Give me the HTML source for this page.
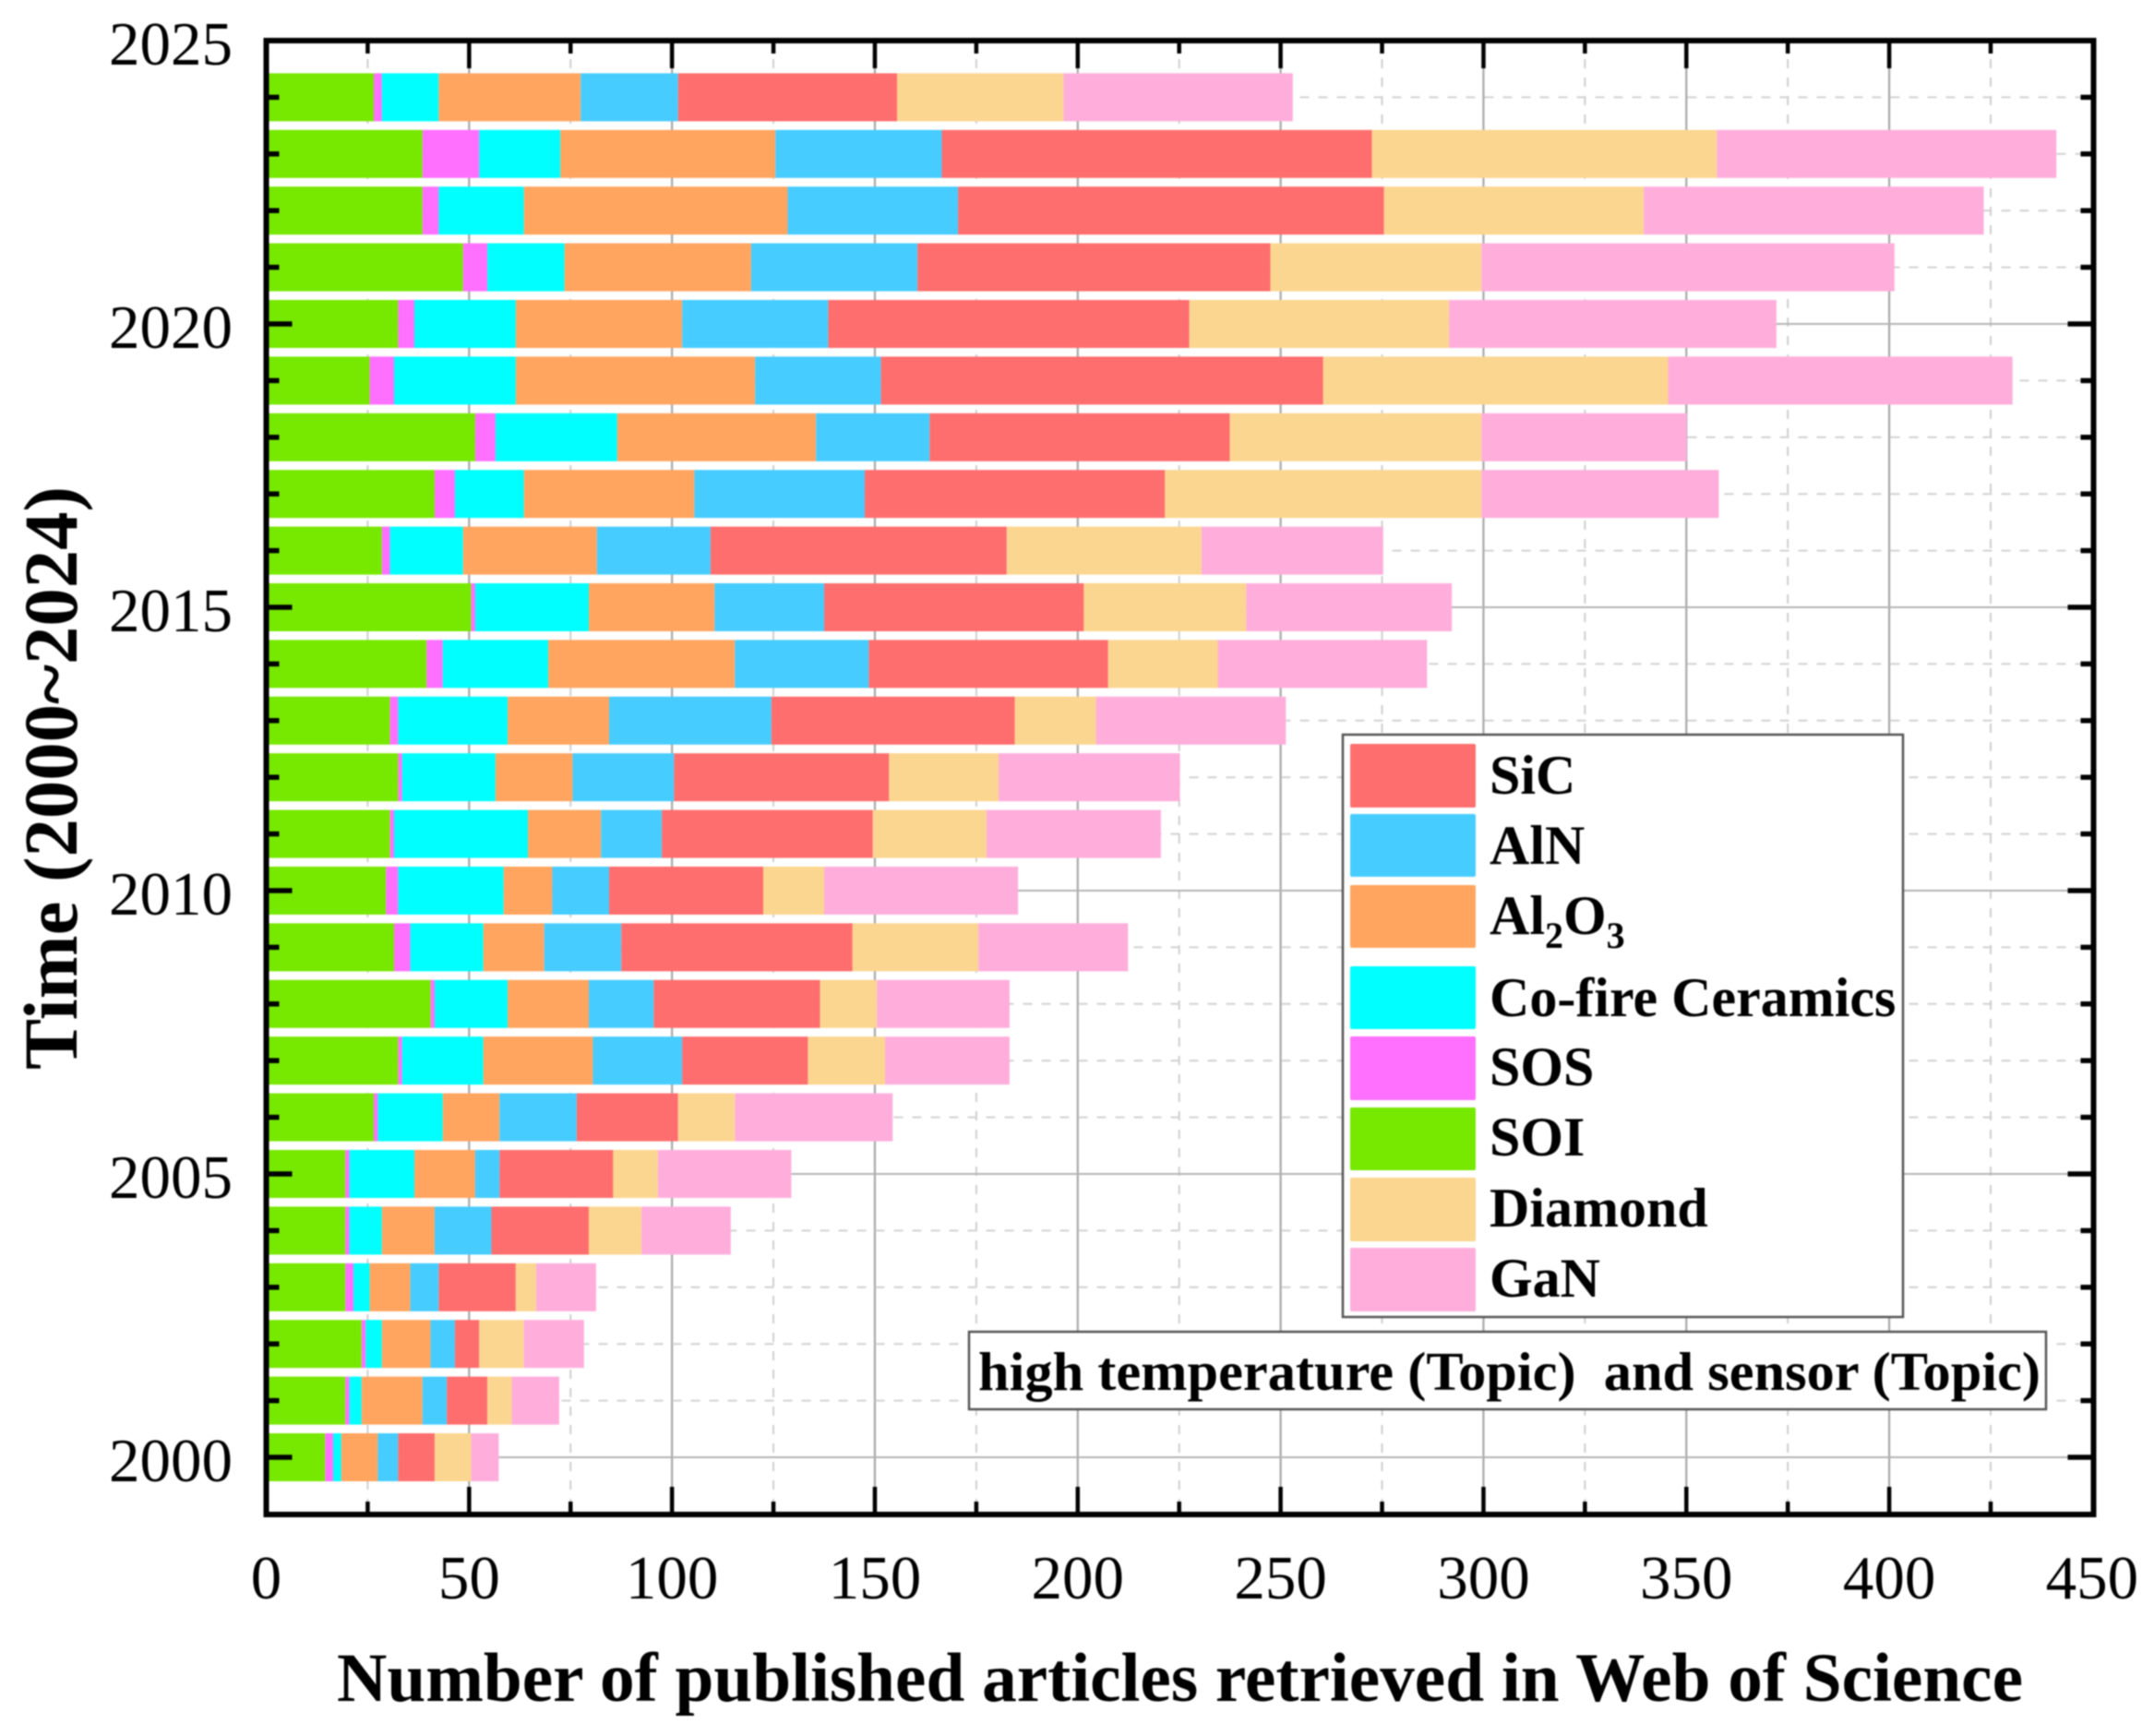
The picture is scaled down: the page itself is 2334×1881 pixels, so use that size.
<!DOCTYPE html>
<html lang="en">
<head>
<meta charset="utf-8">
<title>High temperature sensor publications, 2000–2024</title>
<style>
html,body{margin:0;padding:0;background:#fff;width:2334px;height:1881px;overflow:hidden}
svg{display:block;filter:blur(.8px)}
text{font-family:"Liberation Serif",serif;fill:#000}
.b{font-weight:bold}
</style>
</head>
<body>
<svg id="chart" xmlns="http://www.w3.org/2000/svg" width="2334" height="1881" viewBox="0 0 2334 1881">
  <rect x="0" y="0" width="2334" height="1881" fill="#fff"/>
  <g id="grid"></g>
  <g id="bars"></g>
  <g id="ticks"></g>
  <rect x="288.5" y="44" width="1980" height="1597" fill="none" stroke="#000" stroke-width="6"/>
  <g id="tick-labels"></g>

  <text class="b" x="365" y="1843" font-size="75" textLength="1827" lengthAdjust="spacingAndGlyphs">Number of published articles retrieved in Web of Science</text>
  <text class="b" transform="translate(83,1159) rotate(-90)" x="0" y="0" font-size="83" textLength="632" lengthAdjust="spacingAndGlyphs">Time (2000~2024)</text>

  <g>
    <rect x="1455" y="796" width="607" height="631" fill="#fff" stroke="#555" stroke-width="2.5"/>
    <g>
      <rect x="1463" y="806" width="136" height="69" rx="2" fill="#FF6E6E"/>
      <text class="b" x="1614" y="860" font-size="60">SiC</text>
    </g>
    <g>
      <rect x="1463" y="882" width="136" height="68" rx="2" fill="#47CCFF"/>
      <text class="b" x="1614" y="936" font-size="60">AlN</text>
    </g>
    <g>
      <rect x="1463" y="959" width="136" height="68" rx="2" fill="#FFA560"/>
      <text class="b" x="1614" y="1012" font-size="60">Al<tspan font-size="40" dy="15">2</tspan><tspan dy="-15">O</tspan><tspan font-size="40" dy="15">3</tspan></text>
    </g>
    <g>
      <rect x="1463" y="1047" width="136" height="68" rx="2" fill="#00FFFF"/>
      <text class="b" x="1614" y="1101" font-size="60">Co-fire Ceramics</text>
    </g>
    <g>
      <rect x="1463" y="1123" width="136" height="69" rx="2" fill="#FF70FF"/>
      <text class="b" x="1614" y="1176" font-size="60">SOS</text>
    </g>
    <g>
      <rect x="1463" y="1200" width="136" height="68" rx="2" fill="#77E800"/>
      <text class="b" x="1614" y="1252" font-size="60">SOI</text>
    </g>
    <g>
      <rect x="1463" y="1276" width="136" height="69" rx="2" fill="#FBD690"/>
      <text class="b" x="1614" y="1329" font-size="60">Diamond</text>
    </g>
    <g>
      <rect x="1463" y="1352" width="136" height="69" rx="2" fill="#FFAEDC"/>
      <text class="b" x="1614" y="1405" font-size="60">GaN</text>
    </g>
  </g>

  <g>
    <rect x="1050" y="1443" width="1167" height="84" fill="#fff" stroke="#555" stroke-width="2.5"/>
    <text class="b" x="1060" y="1506" font-size="59" textLength="1151" lengthAdjust="spacingAndGlyphs" xml:space="preserve" style="white-space:pre">high temperature (Topic)  and sensor (Topic)</text>
  </g>
</svg>
<script>
// Chart data (years run 2000 to 2024)
var years = [2000,2001,2002,2003,2004,2005,2006,2007,2008,2009,2010,2011,2012,2013,2014,2015,2016,2017,2018,2019,2020,2021,2022,2023,2024];
var seriesNames = ["SOI","SOS","Co-fire Ceramics","Al2O3","AlN","SiC","Diamond","GaN"];
var seriesColors = ["#77E800","#FF70FF","#00FFFF","#FFA560","#47CCFF","#FF6E6E","#FBD690","#FFAEDC"];
var soi = [14.5,19.5,23.5,19.5,19.5,19.5,26.5,32.5,40.5,31.5,29.5,30.5,32.5,30.5,39.5,50.5,28.5,41.5,51.5,25.5,32.5,48.5,38.5,38.5,26.5];
var sos = [2,1,1,2,1,1,1,1,1,4,3,1,1,2,4,1,2,5,5,6,4,6,4,14,2];
var coFire = [2,3,4,4,8,16,16,20,18,18,26,33,23,27,26,28,18,17,30,30,25,19,21,20,14];
var al2o3 = [9,15,12,10,13,15,14,27,20,15,12,18,19,25,46,31,33,42,49,59,41,46,65,53,35];
var aln = [5,6,6,7,14,6,19,22,16,19,14,15,25,40,33,27,28,42,28,31,36,41,42,41,24];
var sic = [9,10,6,19,24,28,25,31,41,57,38,52,53,60,59,64,73,74,74,109,89,87,105,106,54];
var diamond = [9,6,11,5,13,11,14,19,14,31,15,28,27,20,27,40,48,78,62,85,64,52,64,85,41];
var gan = [6.8,11.7,14.8,14.8,22,32.9,38.9,30.7,32.7,36.9,47.8,43,44.7,46.8,51.6,50.7,44.8,58.5,50.6,84.9,80.7,101.8,83.8,83.7,56.5];
var xTickLabels = [0,50,100,150,200,250,300,350,400,450];
var yTickLabels = [2000,2005,2010,2015,2020,2025];

var allSeries = [soi,sos,coFire,al2o3,aln,sic,diamond,gan];
var NS = "http://www.w3.org/2000/svg";
function x(v){ return 288.5 + 4.3965 * v; }
function y(yr){ return 1579 - 61.4 * (yr - 2000); }
var X_MAX = 450, Y_MIN = 1999, Y_MAX = 2025;
var BAR_H = 52;

function line(parent, x1, y1, x2, y2, stroke, w, dash){
  var el = document.createElementNS(NS, "line");
  el.setAttribute("x1", x1); el.setAttribute("y1", y1);
  el.setAttribute("x2", x2); el.setAttribute("y2", y2);
  el.setAttribute("stroke", stroke); el.setAttribute("stroke-width", w);
  if (dash) el.setAttribute("stroke-dasharray", dash);
  parent.appendChild(el);
  return el;
}

var gridG = document.getElementById("grid");
var ticksG = document.getElementById("ticks");
var labelsG = document.getElementById("tick-labels");
var barsG = document.getElementById("bars");
var l;

// vertical grid and x ticks (major every 50, minor at the midpoints)
for (var v = 25; v < X_MAX; v += 25) {
  var isMajorX = v % 50 === 0;
  l = line(gridG, x(v), 44, x(v), 1641, isMajorX ? "#a8a8a8" : "#cfcfcf", isMajorX ? 2.2 : 2, isMajorX ? null : "10 10");
  
  
}
for (var v2 = 25; v2 < X_MAX; v2 += 25) {
  var len = v2 % 50 === 0 ? 30 : 14;
  l = line(ticksG, x(v2), 1641, x(v2), 1641 - len, "#000", 4.5);
  
  
  l = line(ticksG, x(v2), 44, x(v2), 44 + len, "#000", 4.5);
  
  
}

// horizontal grid and y ticks (major every 5 years, minor each year)
for (var yr = Y_MIN + 1; yr < Y_MAX; yr++) {
  var isMajorY = yr % 5 === 0;
  l = line(gridG, 288.5, y(yr), 2268.5, y(yr), isMajorY ? "#b4b4b4" : "#d2d2d2", 2, isMajorY ? null : "10 10");
  
  
  var tlen = isMajorY ? 28 : 14;
  l = line(ticksG, 288.5, y(yr), 288.5 + tlen, y(yr), "#000", 5.5);
  
  
  l = line(ticksG, 2268.5, y(yr), 2268.5 - tlen, y(yr), "#000", 5.5);
  
  
}

// stacked bars
years.forEach(function (year, i) {
  var total = 0;
  allSeries.forEach(function (vals, s) {
    var r = document.createElementNS(NS, "rect");
    r.setAttribute("x", x(total));
    r.setAttribute("y", y(year) - BAR_H / 2);
    r.setAttribute("width", x(total + vals[i]) - x(total));
    r.setAttribute("height", BAR_H);
    r.setAttribute("fill", seriesColors[s]);
    
    
    r.setAttribute("data-series", seriesNames[s]);
    r.setAttribute("data-year", year);
    barsG.appendChild(r);
    total += vals[i];
  });
});

// tick labels
xTickLabels.forEach(function (v) {
  var t = document.createElementNS(NS, "text");
  t.setAttribute("x", x(v));
  t.setAttribute("y", 1732);
  t.setAttribute("font-size", 67);
  t.setAttribute("text-anchor", "middle");
  
  
  t.textContent = v;
  labelsG.appendChild(t);
});
yTickLabels.forEach(function (yr) {
  var t = document.createElementNS(NS, "text");
  t.setAttribute("x", 252);
  t.setAttribute("y", y(yr) + 26);
  t.setAttribute("font-size", 67);
  t.setAttribute("text-anchor", "end");
  
  
  t.textContent = yr;
  labelsG.appendChild(t);
});
</script>
</body>
</html>
